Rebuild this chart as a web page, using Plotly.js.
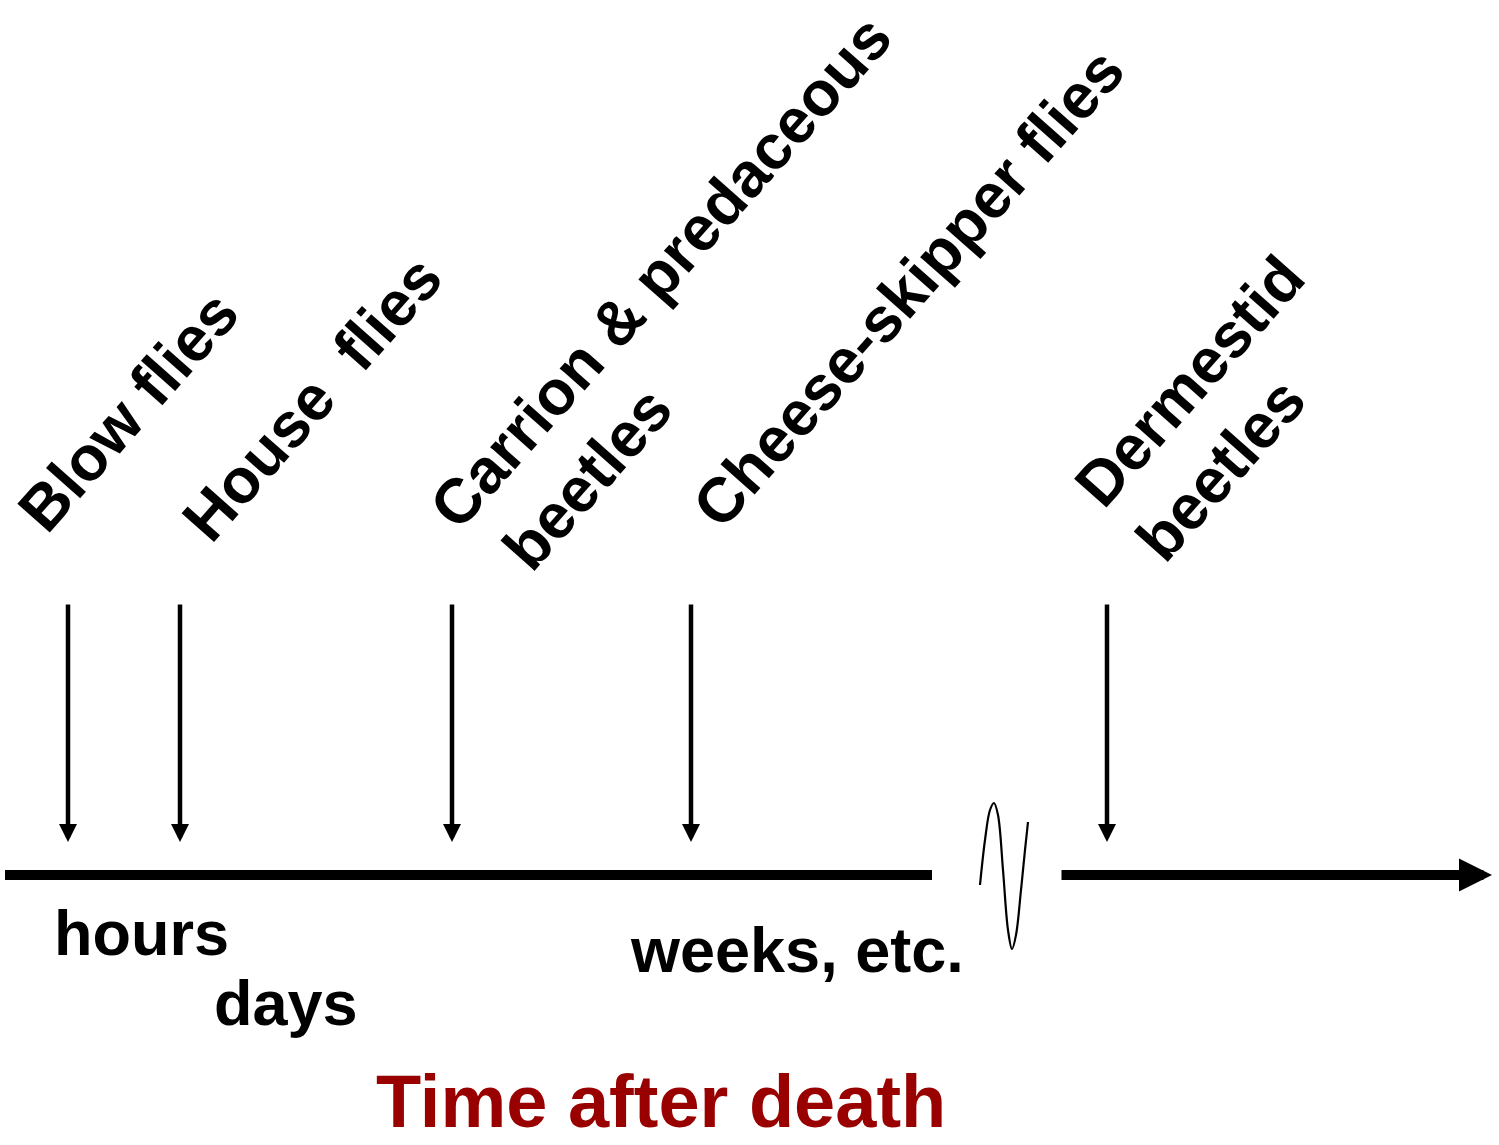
<!DOCTYPE html>
<html>
<head>
<meta charset="utf-8">
<script src="https://cdn.plot.ly/plotly-3.0.1.min.js"></script>
<style>
  html, body { margin: 0; padding: 0; background: #ffffff; }
  #chart { width: 1499px; height: 1145px; }
</style>
</head>
<body>
<div id="chart"></div>
<script>
// ---- Data (diagram units: horizontal position along the time line) ----
const insectLabels = [
  "Blow flies",
  "House\u00A0\u00A0flies",
  "Carrion &amp; predaceous<br>\u00A0beetles",
  "Cheese-skipper flies",
  "Dermestid<br>beetles"
];
const arrivalPos = [68, 180, 452, 691, 1107];        // where each arrow hits the time line
const labelPosX  = [128, 312, 691, 908, 1220];       // label centres
const labelPosY  = [411, 398, 299, 288, 408];
const arrowTop = 603;
const arrowTip = 842;

const timeLevel = 875;
const segment1X = [5, 932];          // first part of the time axis
const segment2X = [1060, 1492];      // after the break (ends in arrowhead)

const breakX = [980, 985, 990, 994, 998, 1003, 1008, 1012, 1016, 1021, 1025, 1028];
const breakY = [885, 840, 810, 803, 815, 870, 930, 949, 935, 890, 850, 822];

const periodLabels = ["hours", "days", "weeks, etc."];
const periodX = [141, 286, 797];
const periodY = [933, 1003, 950];

const axisTitle = "Time after death";
const axisTitleX = 661;
const axisTitleY = 1101;

// ---- Build figure ----
const FONT = "Liberation Sans, Arial, Helvetica, sans-serif";

const traces = [
  {
    x: segment1X, y: [timeLevel, timeLevel],
    mode: "lines", line: { color: "#000000", width: 10 },
    hoverinfo: "skip", showlegend: false
  },
  {
    x: breakX, y: breakY,
    mode: "lines", line: { color: "#000000", width: 2.2, shape: "spline", smoothing: 1 },
    hoverinfo: "skip", showlegend: false
  }
];

const annotations = [];

// vertical arrival arrows
arrivalPos.forEach(p => {
  annotations.push({
    x: p, y: arrowTip, xref: "x", yref: "y",
    ax: p, ay: arrowTop, axref: "x", ayref: "y",
    text: "", showarrow: true,
    arrowhead: 2, arrowsize: 0.8, arrowwidth: 4.5, arrowcolor: "#000000"
  });
});

// second segment of the time axis with arrowhead
annotations.push({
  x: segment2X[1], y: timeLevel, xref: "x", yref: "y",
  ax: segment2X[0], ay: timeLevel, axref: "x", ayref: "y",
  text: "", showarrow: true,
  arrowhead: 2, arrowsize: 0.66, arrowwidth: 10, arrowcolor: "#000000"
});

// rotated insect labels
insectLabels.forEach((t, i) => {
  annotations.push({
    x: labelPosX[i], y: labelPosY[i], xref: "x", yref: "y",
    text: t, showarrow: false, textangle: -48.5,
    align: "left", xanchor: "center", yanchor: "middle",
    font: { family: FONT, size: 63, color: "#000000", weight: "bold" }
  });
});

// period labels
periodLabels.forEach((t, i) => {
  annotations.push({
    x: periodX[i], y: periodY[i], xref: "x", yref: "y",
    text: t, showarrow: false, xanchor: "center", yanchor: "middle",
    font: { family: FONT, size: 63, color: "#000000", weight: "bold" }
  });
});

// axis title
annotations.push({
  x: axisTitleX, y: axisTitleY, xref: "x", yref: "y",
  text: axisTitle, showarrow: false, xanchor: "center", yanchor: "middle",
  font: { family: FONT, size: 74, color: "#990000", weight: "bold" }
});

const layout = {
  width: 1499, height: 1145,
  margin: { l: 0, r: 0, t: 0, b: 0, pad: 0 },
  paper_bgcolor: "#ffffff", plot_bgcolor: "#ffffff",
  xaxis: { range: [0, 1499], visible: false, fixedrange: true },
  yaxis: { range: [1145, 0], visible: false, fixedrange: true },
  showlegend: false,
  annotations: annotations,
  font: { family: FONT, weight: "bold" }
};

Plotly.newPlot("chart", traces, layout, { displayModeBar: false, staticPlot: true });
</script>
</body>
</html>
